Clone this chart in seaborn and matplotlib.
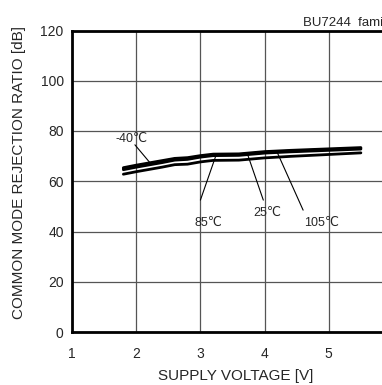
import numpy as np
import pandas as pd
import matplotlib.pyplot as plt
import seaborn as sns

# supply voltage [V] and CMRR [dB] per temperature
voltage = [1.8, 2.0, 2.4, 2.6, 2.8, 3.0, 3.2, 3.6, 4.0, 4.4, 4.8, 5.5]
cmrr_m40 = [65.4, 66.4, 68.2, 69.1, 69.4, 70.2, 70.8, 70.9, 71.8, 72.3, 72.7, 73.4]
cmrr_25 = [64.6, 65.6, 67.4, 68.4, 68.7, 69.6, 70.2, 70.3, 71.2, 71.7, 72.1, 72.8]
cmrr_105 = [65.0, 66.0, 67.8, 68.8, 69.0, 69.9, 70.5, 70.6, 71.5, 72.0, 72.4, 73.1]
cmrr_85 = [62.8, 63.8, 65.6, 66.6, 66.8, 67.7, 68.3, 68.4, 69.3, 69.9, 70.4, 71.3]
temps = ["-40℃", "25℃", "105℃", "85℃"]

df = pd.DataFrame({
    "V": voltage * 4,
    "CMRR": cmrr_m40 + cmrr_25 + cmrr_105 + cmrr_85,
    "T": [t for t in temps for _ in voltage],
})

sns.set_style("white")
plt.rcParams["font.family"] = ["Liberation Sans", "DejaVu Sans"]

fig = plt.figure(figsize=(3.82, 3.85), dpi=100)
ax = fig.add_axes([72 / 382, 1 - 332 / 385, 321 / 382, 301.5 / 385])

sns.lineplot(data=df, x="V", y="CMRR", units="T", estimator=None,
             color="black", linewidth=2.0, ax=ax, legend=False)

ax.set_xlim(1, 6)
ax.set_ylim(0, 120)
ax.set_xticks([1, 2, 3, 4, 5])
ax.set_yticks(range(0, 121, 20))
ax.grid(True, color="#555555", linewidth=0.9)
ax.tick_params(length=0, labelsize=10)
ax.tick_params(axis="y", pad=6)
ax.tick_params(axis="x", pad=11)
for s in ["left", "bottom", "top"]:
    ax.spines[s].set_color("black")
    ax.spines[s].set_linewidth(2)
ax.spines["right"].set_visible(False)

ax.set_xlabel("SUPPLY VOLTAGE [V]", fontsize=11)
ax.set_ylabel("COMMON MODE REJECTION RATIO [dB]", fontsize=11)
ax.xaxis.set_label_coords(0.509, -0.123)
ax.yaxis.set_label_coords(-0.142, 0.528)

# temperature labels with leader lines
lead = dict(arrowstyle="-", color="black", lw=0.8, shrinkA=0, shrinkB=0)
fs = 9
ax.annotate("", xy=(2.22, 67.2), xytext=(1.98, 74.5), arrowprops=lead)
ax.text(1.92, 77, "-40℃", fontsize=fs, ha="center", va="center")
ax.annotate("", xy=(3.24, 70.1), xytext=(3.0, 52.5), arrowprops=lead)
ax.text(3.12, 43.5, "85℃", fontsize=fs, ha="center", va="center")
ax.annotate("", xy=(3.74, 70.3), xytext=(3.98, 52.5), arrowprops=lead)
ax.text(4.04, 47.5, "25℃", fontsize=fs, ha="center", va="center")
ax.annotate("", xy=(4.2, 71.3), xytext=(4.6, 48.5), arrowprops=lead)
ax.text(4.88, 43.5, "105℃", fontsize=fs, ha="center", va="center")

fig.text(303 / 382, 1 - 26 / 385, "BU7244  family", fontsize=9.5,
         ha="left", va="baseline")

fig.savefig("out.png", dpi=100)
